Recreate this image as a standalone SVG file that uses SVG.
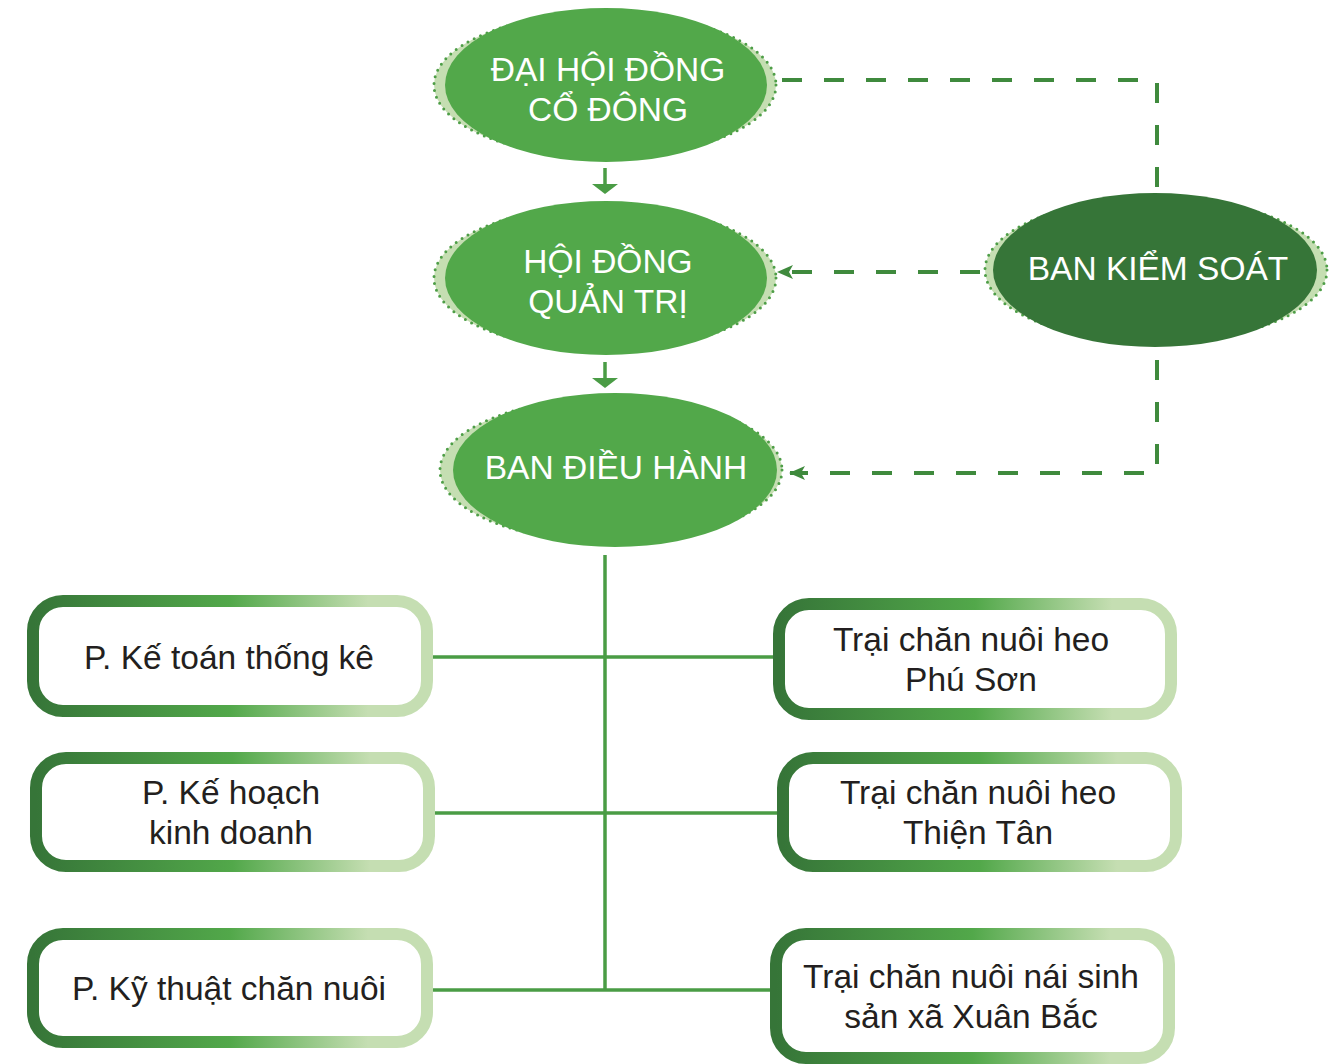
<svg xmlns="http://www.w3.org/2000/svg" width="1336" height="1064" viewBox="0 0 1336 1064">
<defs>
<linearGradient id="bx" x1="0" y1="0" x2="1" y2="0">
<stop offset="0" stop-color="#367538"/>
<stop offset="0.5" stop-color="#52a84a"/>
<stop offset="0.85" stop-color="#c5deb2"/>
<stop offset="1" stop-color="#c5deb2"/>
</linearGradient>
<marker id="ah" viewBox="0 0 16 14" refX="15" refY="7" markerWidth="16" markerHeight="14" markerUnits="userSpaceOnUse" orient="auto">
<path d="M0,7 L16,0 L12,7 L16,14 Z" fill="#3f8a3d" transform="rotate(180 8 7)"/>
</marker>
</defs>
<style>
.back{fill:#c5deb2;stroke:#4e9e47;stroke-width:3;stroke-dasharray:0 7;stroke-linecap:round}
.main{fill:#52a84a}
.dark{fill:#367538}
.et{font-family:"Liberation Sans",Arial,sans-serif;font-size:33.5px;fill:#ffffff;text-anchor:middle}
.bt{font-family:"Liberation Sans",Arial,sans-serif;font-size:33.5px;fill:#231f20;text-anchor:middle}
.box{fill:#ffffff;stroke:url(#bx);stroke-width:12}
.dash{fill:none;stroke:#3f8a3d;stroke-width:4;stroke-dasharray:20 22}
.tree{fill:none;stroke:#4a9c45;stroke-width:3.5}
.dn{fill:none;stroke:#4a9c45;stroke-width:3.5}
.dnh{fill:#4a9c45}
</style>
<g id="connectors">
<path class="dash" d="M782,80 H1157 V193"/>
<path class="dash" d="M980,272 H778" marker-end="url(#ah)"/>
<path class="dash" d="M1157,360 V473 H790" marker-end="url(#ah)"/>
<path class="dn" d="M605,168 V186"/>
<path class="dnh" d="M592,184 L618,184 L605,194 Z"/>
<path class="dn" d="M605,362 V380"/>
<path class="dnh" d="M592,378 L618,378 L605,388 Z"/>
<path class="tree" d="M605,555 V990"/>
<path class="tree" d="M433,657 H773"/>
<path class="tree" d="M435,813 H777"/>
<path class="tree" d="M433,990 H770"/>
</g>
<g id="dhdcd">
<ellipse class="back" cx="605" cy="85" rx="171" ry="72"/>
<ellipse class="main" cx="606" cy="85" rx="161" ry="77"/>
<text class="et" x="608" y="81">ĐẠI HỘI ĐỒNG</text>
<text class="et" x="608" y="121">CỔ ĐÔNG</text>
</g>
<g id="hdqt">
<ellipse class="back" cx="605" cy="278" rx="171" ry="72"/>
<ellipse class="main" cx="606" cy="278" rx="161" ry="77"/>
<text class="et" x="608" y="273">HỘI ĐỒNG</text>
<text class="et" x="608" y="313">QUẢN TRỊ</text>
</g>
<g id="bdh">
<ellipse class="back" cx="611" cy="470" rx="171" ry="72"/>
<ellipse class="main" cx="615" cy="470" rx="162" ry="77"/>
<text class="et" x="616" y="479">BAN ĐIỀU HÀNH</text>
</g>
<g id="bks">
<ellipse class="back" cx="1156" cy="270" rx="171" ry="72"/>
<ellipse class="dark" cx="1155" cy="270" rx="162" ry="77"/>
<text class="et" x="1158" y="280">BAN KIỂM SOÁT</text>
</g>
<g id="ketoan">
<rect class="box" x="33" y="601" width="394" height="110" rx="30"/>
<text class="bt" x="229" y="669">P. Kế toán thống kê</text>
</g>
<g id="phuson">
<rect class="box" x="779" y="604" width="392" height="110" rx="30"/>
<text class="bt" x="971" y="651">Trại chăn nuôi heo</text>
<text class="bt" x="971" y="691">Phú Sơn</text>
</g>
<g id="kehoach">
<rect class="box" x="36" y="758" width="393" height="108" rx="30"/>
<text class="bt" x="231" y="804">P. Kế hoạch</text>
<text class="bt" x="231" y="844">kinh doanh</text>
</g>
<g id="thientan">
<rect class="box" x="783" y="758" width="393" height="108" rx="30"/>
<text class="bt" x="978" y="804">Trại chăn nuôi heo</text>
<text class="bt" x="978" y="844">Thiện Tân</text>
</g>
<g id="kythuat">
<rect class="box" x="33" y="934" width="394" height="108" rx="30"/>
<text class="bt" x="229" y="1000">P. Kỹ thuật chăn nuôi</text>
</g>
<g id="xuanbac">
<rect class="box" x="776" y="934" width="393" height="124" rx="30"/>
<text class="bt" x="971" y="988">Trại chăn nuôi nái sinh</text>
<text class="bt" x="971" y="1028">sản xã Xuân Bắc</text>
</g>
</svg>
